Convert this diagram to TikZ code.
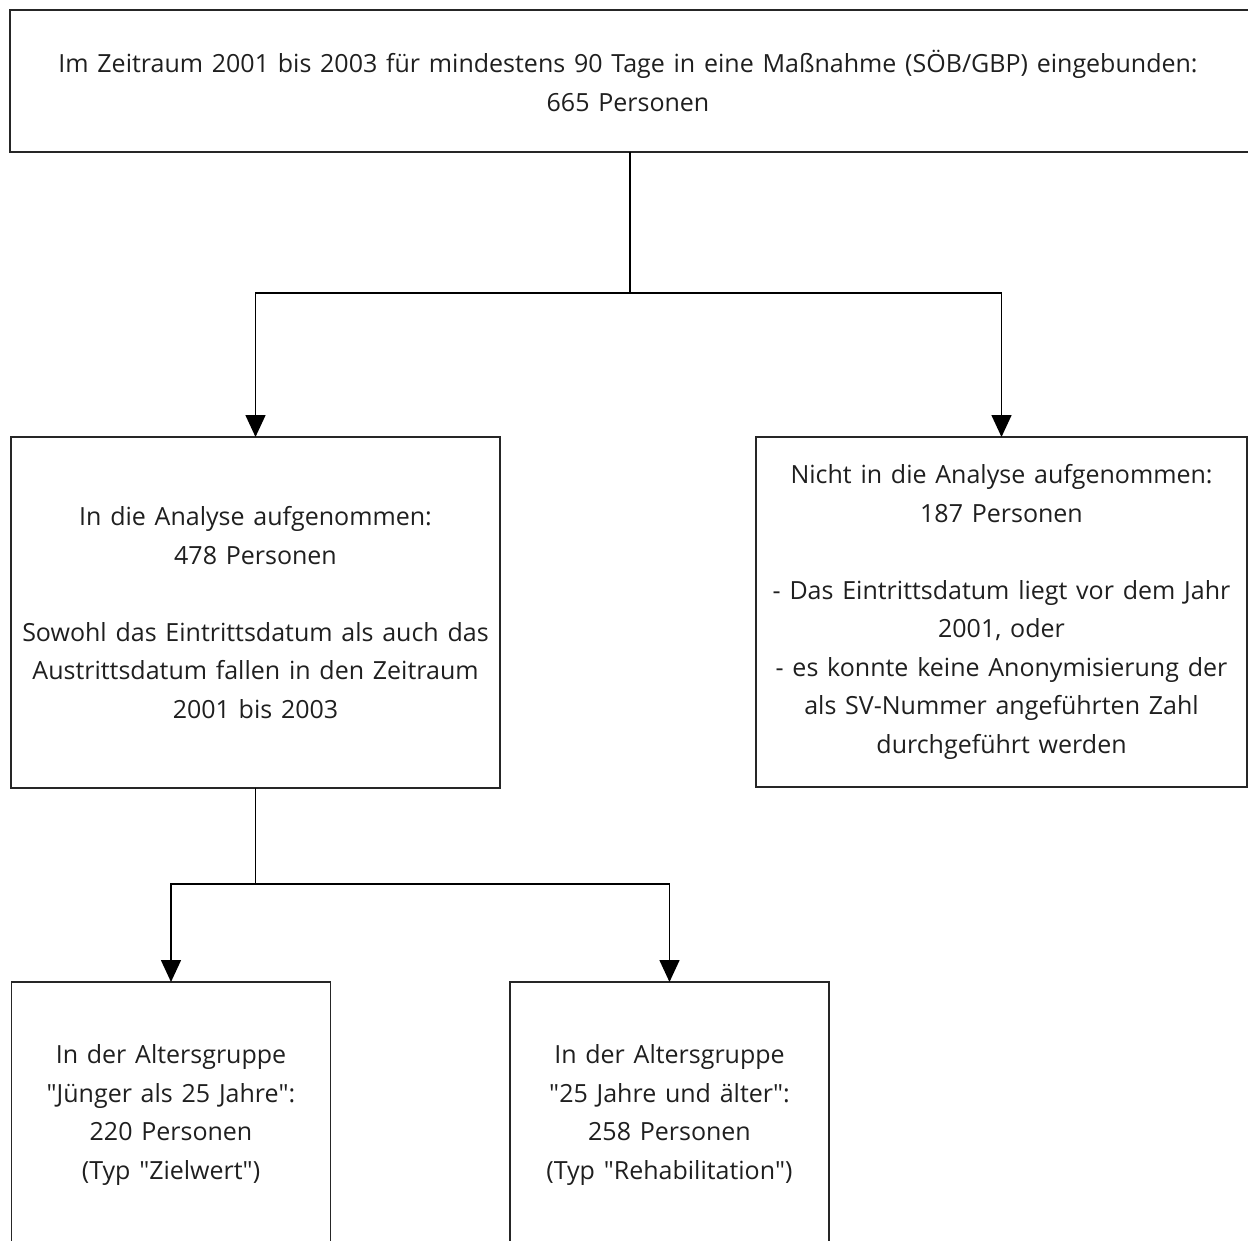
\documentclass[tikz,border=0pt]{standalone}
\usepackage{fontspec}
\setmainfont{Open Sans}[WordSpace=1.35]
\usetikzlibrary{arrows.meta,positioning,calc}

\begin{document}
\begin{tikzpicture}[
        x=1pt, y=-1pt,
        font=\fontsize{25}{38.5}\selectfont,
        box/.style={draw=black!85, line width=1.6pt, inner sep=0pt, outer sep=0pt, align=center, text=black!88},
        topbox/.style={box, minimum width=1270pt, minimum height=142pt},
        midbox/.style={box, minimum width=489pt, minimum height=351pt},
        lowbox/.style={box, minimum width=319pt, minimum height=266pt},
        label/.style={inner sep=0pt, align=center, text=black!88},
        link/.style={line width=1.6pt, black},
        arr/.style={link, -{Triangle[width=20pt,length=22pt]}}
    ]

% --- Page frame ---
        \clip (0,0) rectangle (1248,1241);

% --- Top box (runs past the right edge) ---
        \node[topbox] (total) at (645,81) {};
        \node[label] (totaltext) at (628,81) {Im Zeitraum 2001 bis 2003 für mindestens 90 Tage in eine Maßnahme (SÖB/GBP) eingebunden:\\665 Personen};

% --- Second row ---
        \node[midbox] (incl) at (255.5,612.5) {In die Analyse aufgenommen:\\478 Personen\\[38.5pt]Sowohl das Eintrittsdatum als auch das\\Austrittsdatum fallen in den Zeitraum\\2001 bis 2003};
        \node[midbox, minimum width=491pt, minimum height=350pt] (excl) at (1001.5,612) {Nicht in die Analyse aufgenommen:\\187 Personen\\[38.5pt]- Das Eintrittsdatum liegt vor dem Jahr\\2001, oder\\- es konnte keine Anonymisierung der\\als SV-Nummer angeführten Zahl\\durchgeführt werden};

% --- Third row ---
        \node[lowbox] (young) at (171,1115) {In der Altersgruppe\\\textquotedbl Jünger als 25 Jahre\textquotedbl :\\220 Personen\\(Typ \textquotedbl Zielwert\textquotedbl )};
        \node[lowbox] (old) at (669.5,1115) {In der Altersgruppe\\\textquotedbl 25 Jahre und älter\textquotedbl :\\258 Personen\\(Typ \textquotedbl Rehabilitation\textquotedbl )};

% --- Connectors ---
        \coordinate (fork1) at (630,293);
        \coordinate (fork2) at (255.5,884);
        \draw[link] (fork1 |- total.south) -- (fork1);
        \draw[arr] (fork1) -| (incl.north);
        \draw[arr] (fork1) -| (excl.north);
        \draw[link] (incl.south) -- (fork2);
        \draw[arr] (fork2) -| (young.north);
        \draw[arr] (fork2) -| (old.north);

    \end{tikzpicture}
\end{document}
